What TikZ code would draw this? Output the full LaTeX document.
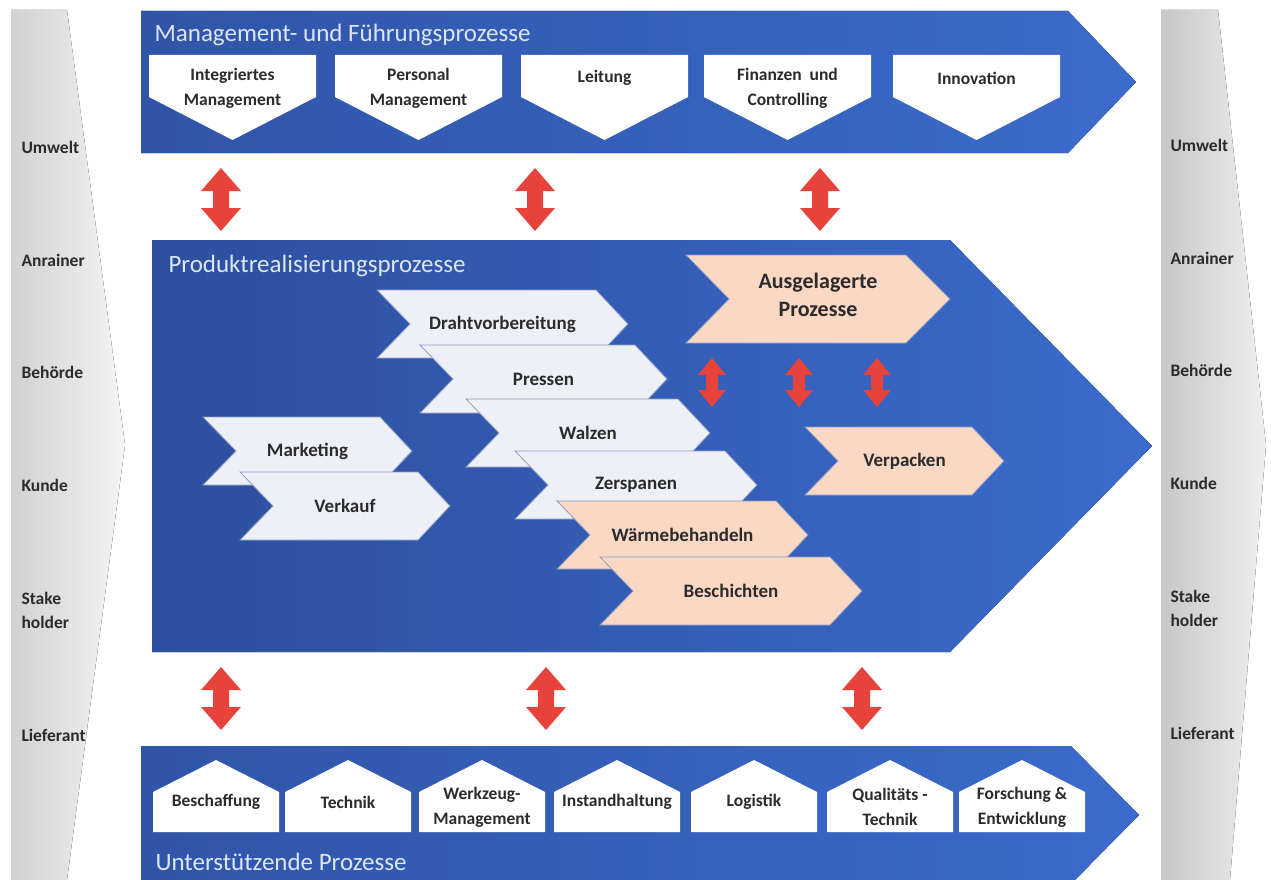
\documentclass[tikz,border=0pt]{standalone}
\usepackage{fontspec}
\setmainfont{Carlito}

\definecolor{bandblue}{HTML}{3B6BCC}
\definecolor{banddark}{HTML}{2D4F9E}
\definecolor{chevlight}{HTML}{EEF0F8}
\definecolor{chevpeach}{HTML}{FAD8C4}
\definecolor{chevline}{HTML}{8E9BC2}
\definecolor{arrowred}{HTML}{E8433A}
\definecolor{labelgrey}{HTML}{2B2B2B}
\definecolor{titlewhite}{HTML}{DDE6F6}

\begin{document}
\begin{tikzpicture}[x=1pt, y=-1pt,
    band/.style={left color=banddark!80!bandblue, right color=bandblue},
    title/.style={anchor=base west, text=titlewhite, font=\fontsize{25}{30}\selectfont},
    boxtext/.style={align=center, text=labelgrey, font=\fontsize{17.5}{25}\selectfont\bfseries},
    chev/.style={draw=chevline, line width=0.8pt},
    chevtext/.style={text=labelgrey, font=\fontsize{19}{24}\selectfont\bfseries},
    side/.style={anchor=west, align=left, text=labelgrey, font=\fontsize{17.5}{24}\selectfont\bfseries},
    redarrow/.style={fill=arrowred}]

    \useasboundingbox (0,0) rectangle (1271,880);
    \clip (0,0) rectangle (1271,880);

    % Interested parties (both sides)
    \fill[left color=black!18, right color=black!4] (11,10) -- (67,10) -- (125,445) -- (67,880) -- (11,880) -- cycle;
    \fill[left color=black!22, right color=black!6] (1161,10) -- (1218,10) -- (1266,445) -- (1230,880) -- (1161,880) -- cycle;
    \foreach \nm/\y/\txt in {umwelt/147/Umwelt, anrainer/260/Anrainer, behoerde/372/Behörde,
        kunde/485/Kunde, stake/610/{Stake\\holder}, lieferant/735/Lieferant} {
      \node[side] (l\nm) at (18,\y) {\txt};
      \node[side] (r\nm) at (1167,\y-2) {\txt};
    }

    % Management band
    \fill[band] (141,11) -- (1068,11) -- (1136,82) -- (1068,153) -- (141,153) -- cycle;
    \node[title] (mgmt) at (151,42) {Management- und Führungsprozesse};
    \foreach \nm/\lx/\y/\txt in {integ/149/88/{Integriertes\\Management}, personal/335/88/{Personal\\Management},
        leitung/521/78/Leitung, finanzen/704/88/{Finanzen~~und\\Controlling}, innov/893/78/Innovation} {
      \fill[white] (\lx,55) -- (\lx+167,55) -- (\lx+167,97) -- (\lx+83.5,140) -- (\lx,97) -- cycle;
      \node[boxtext] (\nm) at (\lx+83.5,\y) {\txt};
    }

    % Links between the bands
    \foreach \x/\y in {221/168, 535/168, 820/168, 221/667, 546/667, 862/667}
      \fill[redarrow] (\x,\y) -- (\x+20,\y+23) -- (\x+8,\y+23) -- (\x+8,\y+40) -- (\x+20,\y+40) -- (\x,\y+63)
        -- (\x-20,\y+40) -- (\x-8,\y+40) -- (\x-8,\y+23) -- (\x-20,\y+23) -- cycle;

    % Product realisation band
    \fill[left color=banddark, right color=bandblue] (152,240) -- (950,240) -- (1152,446) -- (950,652) -- (152,652) -- cycle;
    \node[title] (prod) at (165,272) {Produktrealisierungsprozesse};
    \foreach \nm/\lx/\ty/\rx/\col/\txt in {
        draht/377/290/628/chevlight/Drahtvorbereitung, pressen/420/345/667/chevlight/Pressen,
        walzen/466/399/710/chevlight/Walzen, zersp/515/451/757/chevlight/Zerspanen,
        waerme/557/501/808/chevpeach/Wärmebehandeln, beschicht/600/557/862/chevpeach/Beschichten,
        marketing/203/417/412/chevlight/Marketing, verkauf/240/472/450/chevlight/Verkauf,
        verpacken/805/427/1004/chevpeach/Verpacken} {
      \filldraw[chev, fill=\col] (\lx,\ty) -- (\rx-32,\ty) -- (\rx,\ty+34) -- (\rx-32,\ty+68) -- (\lx,\ty+68) -- (\lx+33,\ty+34) -- cycle;
      \node[chevtext] (\nm) at ({(\lx+\rx)/2},\ty+34) {\txt};
    }
    \filldraw[chev, fill=chevpeach] (686,255) -- (906,255) -- (950,299) -- (906,343) -- (686,343) -- (729,299) -- cycle;
    \node[chevtext, align=center, font=\fontsize{22}{28}\selectfont\bfseries] (ausgel) at (818,295) {Ausgelagerte\\Prozesse};
    \foreach \x in {712, 799, 877}
      \fill[redarrow] (\x,358) -- (\x+14,375) -- (\x+6,375) -- (\x+6,390) -- (\x+14,390) -- (\x,407)
        -- (\x-14,390) -- (\x-6,390) -- (\x-6,375) -- (\x-14,375) -- cycle;

    % Support band
    \fill[band] (141,746) -- (1071,746) -- (1139,815) -- (1071,884) -- (141,884) -- cycle;
    \node[title] (support) at (152,870) {Unterstützende Prozesse};
    \foreach \nm/\cx/\y/\txt in {beschaff/216/802/Beschaffung, technik/348/802/Technik,
        werkzeug/482/807/{Werkzeug-\\Management}, instand/617/802/Instandhaltung, logistik/754/802/Logistik,
        quali/890/807/{Qualitäts -\\Technik}, forschung/1022/807/{Forschung \&\\Entwicklung}} {
      \fill[white] (\cx-63,832) -- (\cx-63,792) -- (\cx,760) -- (\cx+63,792) -- (\cx+63,832) -- cycle;
      \node[boxtext] (\nm) at (\cx,\y) {\txt};
    }
\end{tikzpicture}
\end{document}
